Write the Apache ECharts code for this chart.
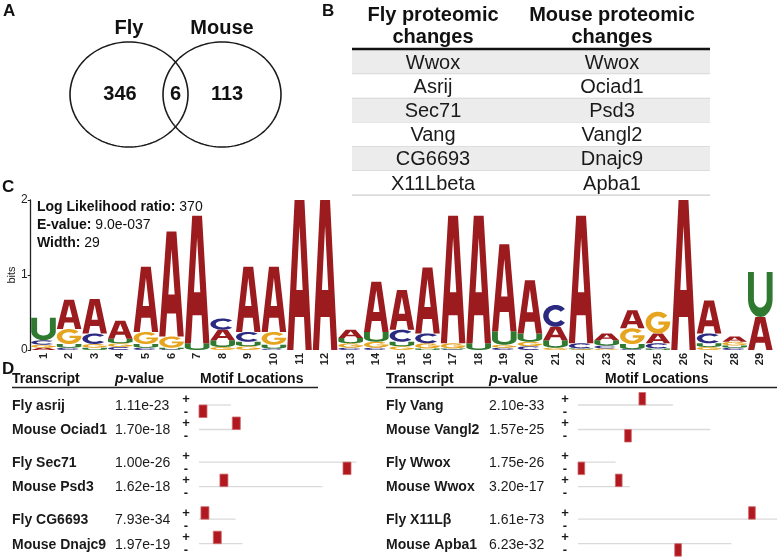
<!DOCTYPE html>
<html><head><meta charset="utf-8">
<script src="https://cdn.jsdelivr.net/npm/echarts@6/dist/echarts.min.js"></script>
<style>html,body{margin:0;padding:0;background:#fff}#c{width:777px;height:557px}</style>
</head><body><div id="c"></div>
<script>
const FONT = '"Liberation Sans", Arial, Helvetica, sans-serif';

// ---------- Panel A: Venn ----------
const vennSets = ['Fly', 'Mouse'];
const vennUnique = [346, 113];
const vennShared = 6;

// ---------- Panel B: table ----------
const tableHeaders = ['Fly proteomic\nchanges', 'Mouse proteomic\nchanges'];
const flyChanges = ['Wwox', 'Asrij', 'Sec71', 'Vang', 'CG6693', 'X11Lbeta'];
const mouseChanges = ['Wwox', 'Ociad1', 'Psd3', 'Vangl2', 'Dnajc9', 'Apba1'];

// ---------- Panel C: sequence logo ----------
const logoInfo = [['Log Likelihood ratio:', '370'], ['E-value:', '9.0e-037'], ['Width:', '29']];
const logoPositions = ['1','2','3','4','5','6','7','8','9','10','11','12','13','14','15','16','17','18','19','20','21','22','23','24','25','26','27','28','29'];
const bitsA = [0.03,0.39,0.46,0.24,0.87,1.40,1.70,0.14,0.87,0.87,2.00,2.00,0.11,0.67,0.53,0.88,1.70,1.70,1.16,0.71,0.18,1.70,0.09,0.24,0.13,2.00,0.44,0.07,0.44];
const bitsC = [0.06,0.03,0.14,0.04,0.03,0.01,0.00,0.15,0.13,0.02,0.00,0.00,0.03,0.03,0.16,0.13,0.01,0.00,0.03,0.05,0.29,0.07,0.04,0.01,0.07,0.00,0.13,0.03,0.00];
const bitsG = [0.04,0.20,0.05,0.05,0.16,0.15,0.00,0.04,0.05,0.17,0.00,0.00,0.06,0.08,0.05,0.07,0.07,0.00,0.04,0.06,0.03,0.01,0.02,0.21,0.29,0.00,0.04,0.05,0.00];
const bitsU = [0.30,0.05,0.03,0.06,0.05,0.02,0.09,0.09,0.06,0.05,0.00,0.00,0.07,0.13,0.06,0.02,0.01,0.09,0.18,0.11,0.10,0.01,0.07,0.07,0.02,0.00,0.05,0.03,0.60];

// ---------- Panel D: motif locations ----------
const motifWidth = 29;
const transcriptsLeft = ['Fly asrij', 'Mouse Ociad1', 'Fly Sec71', 'Mouse Psd3', 'Fly CG6693', 'Mouse Dnajc9'];
const pValuesLeft = ['1.11e-23', '1.70e-18', '1.00e-26', '1.62e-18', '7.93e-34', '1.97e-19'];
const seqLenLeft = [116, 149, 572, 448, 133, 158];
const siteStartLeft = [0, 121, 523, 76, 7, 52];
const strandLeft = [-1, 1, -1, 1, 1, 1];

const transcriptsRight = ['Fly Vang', 'Mouse Vangl2', 'Fly Wwox', 'Mouse Wwox', 'Fly X11Lβ', 'Mouse Apba1'];
const pValuesRight = ['2.10e-33', '1.57e-25', '1.75e-26', '3.20e-17', '1.61e-73', '6.23e-32'];
const seqLenRight = [411, 573, 163, 225, 900, 664];
const siteStartRight = [264, 202, 0, 162, 739, 419];
const strandRight = [1, -1, -1, 1, 1, -1];

// ---------- helpers ----------
const letters = ['A', 'C', 'G', 'U'];
const letterColors = ['#9b1b1e', '#2c2a80', '#e6a520', '#2f7a30'];
function arcPts(cx, cy, rx, ry, a0, a1, n) {
  const pts = [];
  for (let k = 0; k <= n; k++) {
    const a = (a0 + (a1 - a0) * k / n) * Math.PI / 180;
    pts.push([cx + rx * Math.cos(a), cy - ry * Math.sin(a)]);
  }
  return pts;
}
const GLYPHS = {
  A: [[[0,1],[0.3,0],[0.7,0],[1,1],[0.749,1],[0.683,0.78],[0.317,0.78],[0.251,1]],
      [[0.371,0.6],[0.629,0.6],[0.5,0.17]]],
  C: [arcPts(0.5,0.5,0.5,0.5,40,320,40).concat(arcPts(0.5,0.5,0.28,0.29,320,40,30))],
  G: [arcPts(0.5,0.5,0.5,0.5,40,356,40).concat([[1,0.45],[0.52,0.45],[0.52,0.6]], arcPts(0.5,0.5,0.28,0.29,340,40,30))],
  U: [[[0,0],[0.24,0]].concat(arcPts(0.5,0.6,0.26,0.19,180,360,20), [[0.76,0],[1,0]], arcPts(0.5,0.6,0.5,0.4,0,-180,24))]
};
function glyphPath(L, x, y, w, h) {
  return GLYPHS[L].map(c => 'M' + c.map(p => (x + p[0] * w).toFixed(2) + ' ' + (y + p[1] * h).toFixed(2)).join('L') + 'Z').join(' ');
}
function ellipseSymbol() {
  const pts = [];
  for (let k = 0; k < 120; k++) {
    const a = k / 120 * Math.PI * 2;
    pts.push((50 + 50 * Math.cos(a)).toFixed(2) + ' ' + (50 + 50 * Math.sin(a)).toFixed(2));
  }
  return 'path://M' + pts.join('L') + 'Z';
}

// logo stacks (smallest at bottom)
const logoData = [];
for (let i = 0; i < logoPositions.length; i++) {
  const hs = [[0, bitsA[i]], [1, bitsC[i]], [2, bitsG[i]], [3, bitsU[i]]]
    .filter(d => d[1] > 0).sort((a, b) => a[1] - b[1]);
  let y = 0;
  hs.forEach(([li, h]) => { logoData.push([i, y, y + h, li]); y += h; });
}

// motif rows (row layout: pairs separated by a small gap)
const rowPos = i => i + Math.floor(i / 2) * 0.33;
function trackData(len, site, strand) {
  return len.map((l, i) => [site[i], rowPos(i), l, strand[i]]);
}
function trackRender(names, pvals, nameX, pX, xMax) {
  return function (params, api) {
    const i = params.dataIndex;
    const site = api.value(0), yv = api.value(1), len = api.value(2), strand = api.value(3);
    const p0 = api.coord([0, yv]);
    const p1 = api.coord([Math.min(len, xMax), yv]);
    const s0 = api.coord([site, yv]);
    const s1 = api.coord([site + motifWidth, yv]);
    const bh = 12.5;
    const yc = p0[1];
    const txt = (t, x, y, extra) => ({ type: 'text', style: Object.assign({ text: t, x: x, y: y, fill: '#1a1a1a', fontFamily: FONT, fontSize: 14, align: 'left', verticalAlign: 'middle' }, extra || {}) });
    return {
      type: 'group',
      children: [
        { type: 'line', shape: { x1: p0[0], y1: yc, x2: p1[0], y2: yc }, style: { stroke: '#dadada', lineWidth: 1.3 } },
        { type: 'rect', shape: { x: s0[0], y: strand > 0 ? yc - bh : yc, width: s1[0] - s0[0], height: bh },
          style: { fill: '#b1181f', stroke: '#cf6a6c', lineWidth: 0.8 } },
        txt('+', p0[0] - 13, yc - 6, { fontSize: 13, fontWeight: 'bold', align: 'center' }),
        txt('-', p0[0] - 13, yc + 7, { fontSize: 13, fontWeight: 'bold', align: 'center' }),
        txt(names[i], nameX, yc + 1, { fontWeight: 'bold' }),
        txt(pvals[i], pX, yc + 1)
      ]
    };
  };
}

// ---------- graphic (labels + table) ----------
const graphic = [];
const gtext = (t, x, y, st) => graphic.push({ type: 'text', x: x, y: y, silent: true,
  style: Object.assign({ text: t, fill: '#111', fontFamily: FONT, fontSize: 14, align: 'left', verticalAlign: 'middle' }, st || {}) });
// panel letters
[['A', 3, 11], ['B', 322, 11], ['C', 2, 187], ['D', 2, 369]].forEach(([t, x, y]) =>
  gtext(t, x, y, { fontSize: 17, fontWeight: 'bold' }));

// table B
const tblL = 352, tblR = 710, colX = [433, 612], rowTop = 50, rowH = 24.2;
tableHeaders.forEach((h, k) => gtext(h, colX[k], 26, { fontSize: 20, fontWeight: 'bold', align: 'center', lineHeight: 22 }));
flyChanges.forEach((f, i) => {
  const y = rowTop + i * rowH;
  graphic.push({ type: 'rect', silent: true, shape: { x: tblL, y: y, width: tblR - tblL, height: rowH }, style: { fill: i % 2 === 0 ? '#ececec' : '#ffffff' } });
  graphic.push({ type: 'line', silent: true, shape: { x1: tblL, y1: y + rowH, x2: tblR, y2: y + rowH }, style: { stroke: '#cdcdcd', lineWidth: 1.2 } });
  gtext(f, colX[0], y + rowH / 2 + 1, { fontSize: 20, align: 'center', fill: '#1a1a1a' });
  gtext(mouseChanges[i], colX[1], y + rowH / 2 + 1, { fontSize: 20, align: 'center', fill: '#1a1a1a' });
});
graphic.push({ type: 'line', silent: true, shape: { x1: tblL, y1: 49, x2: tblR, y2: 49 }, style: { stroke: '#111', lineWidth: 2.5 } });

// logo info text
logoInfo.forEach(([k, v], i) => gtext('{b|' + k + '} {n|' + v + '}', 37, 207 + i * 18, {
  rich: { b: { fontWeight: 'bold', fontSize: 14, fontFamily: FONT, fill: '#111' }, n: { fontSize: 14, fontFamily: FONT, fill: '#111' } }
}));

// panel D headers
[[12, 115, 200, 318], [386, 489, 605, 777]].forEach(([xT, xP, xM, xEnd]) => {
  gtext('Transcript', xT, 379, { fontWeight: 'bold' });
  gtext('{i|p}{b|-value}', xP, 379, { rich: { i: { fontStyle: 'italic', fontWeight: 'bold', fontSize: 14, fontFamily: FONT, fill: '#111' }, b: { fontWeight: 'bold', fontSize: 14, fontFamily: FONT, fill: '#111' } } });
  gtext('Motif Locations', xM, 379, { fontWeight: 'bold' });
  graphic.push({ type: 'line', silent: true, shape: { x1: xT, y1: 387.5, x2: xEnd, y2: 387.5 }, style: { stroke: '#222', lineWidth: 1.6 } });
});

const hidden = { show: false };
const G = o => Object.assign({ containLabel: false, outerBoundsMode: 'none' }, o);
const option = {
  animation: false,
  backgroundColor: '#fff',
  textStyle: { fontFamily: FONT },
  graphic: graphic,
  grid: [
    G({ left: 129, top: 44.5, width: 93, height: 100 }),
    G({ left: 30.7, top: 200, width: 742.4, height: 150 }),
    G({ left: 199, top: 405, width: 179, height: 138.7 }),
    G({ left: 578, top: 405, width: 199, height: 138.7 })
  ],
  xAxis: [
    { gridIndex: 0, type: 'value', min: 0, max: 1, show: false },
    { gridIndex: 1, type: 'category', data: logoPositions, boundaryGap: true,
      axisLine: hidden, axisTick: hidden,
      axisLabel: { rotate: 90, fontSize: 11, fontWeight: 'bold', color: '#222', margin: 3, interval: 0, fontFamily: FONT } },
    { gridIndex: 2, type: 'value', min: 0, max: 650, show: false },
    { gridIndex: 3, type: 'value', min: 0, max: 862, show: false }
  ],
  yAxis: [
    { gridIndex: 0, type: 'value', min: -1, max: 1, show: false },
    { gridIndex: 1, type: 'value', min: 0, max: 2, interval: 1, name: 'bits', nameLocation: 'middle', nameGap: 13, nameRotate: 90,
      nameMoveOverlap: false,
      nameTextStyle: { fontSize: 11, color: '#222', fontFamily: FONT },
      axisLine: { show: true, lineStyle: { color: '#222', width: 1.3 } },
      axisTick: { show: true, length: 3, lineStyle: { color: '#222' } },
      axisLabel: { fontSize: 12, color: '#222', margin: 3, fontFamily: FONT },
      splitLine: hidden },
    { gridIndex: 2, type: 'value', min: 0, max: 5.66, inverse: true, show: false },
    { gridIndex: 3, type: 'value', min: 0, max: 5.66, inverse: true, show: false }
  ],
  series: [
    { type: 'scatter', xAxisIndex: 0, yAxisIndex: 0, silent: true, clip: false,
      symbol: ellipseSymbol(), symbolSize: [118, 105],
      itemStyle: { color: 'rgba(0,0,0,0)', borderColor: '#1a1a1a', borderWidth: 1.5, opacity: 1 },
      label: { show: true, position: 'top', distance: 3, formatter: '{b}', fontSize: 20, fontWeight: 'bold', color: '#111', fontFamily: FONT },
      data: vennSets.map((s, i) => ({ name: s, value: [i, 0] })) },
    { type: 'scatter', xAxisIndex: 0, yAxisIndex: 0, silent: true, clip: false, symbolSize: 0,
      itemStyle: { opacity: 1 },
      label: { show: true, position: 'inside', formatter: p => String(p.value[2]), fontSize: 20, fontWeight: 'bold', color: '#111', fontFamily: FONT },
      data: [[-0.097, 0, vennUnique[0]], [0.5, 0, vennShared], [1.054, 0, vennUnique[1]]] },
    { type: 'custom', xAxisIndex: 1, yAxisIndex: 1, silent: true, clip: false,
      encode: { x: 0, y: [1, 2] },
      data: logoData,
      renderItem: function (params, api) {
        const idx = api.value(0), y0 = api.value(1), y1 = api.value(2), li = api.value(3);
        const p0 = api.coord([idx, y0]), p1 = api.coord([idx, y1]);
        const bw = api.size([1, 0])[0] * 0.96;
        return { type: 'path', shape: { pathData: glyphPath(letters[li], p0[0] - bw / 2, p1[1], bw, p0[1] - p1[1]) },
          style: { fill: letterColors[li] } };
      } },
    { type: 'custom', xAxisIndex: 2, yAxisIndex: 2, silent: true, clip: false,
      encode: { x: [0, 2], y: 1 },
      data: trackData(seqLenLeft, siteStartLeft, strandLeft),
      renderItem: trackRender(transcriptsLeft, pValuesLeft, 12, 115, 650) },
    { type: 'custom', xAxisIndex: 3, yAxisIndex: 3, silent: true, clip: false,
      encode: { x: [0, 2], y: 1 },
      data: trackData(seqLenRight, siteStartRight, strandRight),
      renderItem: trackRender(transcriptsRight, pValuesRight, 386, 489, 862) }
  ]
};
const chart = echarts.init(document.getElementById('c'), null, { renderer: 'canvas', width: 777, height: 557 });
chart.setOption(option);
</script>
</body></html>
